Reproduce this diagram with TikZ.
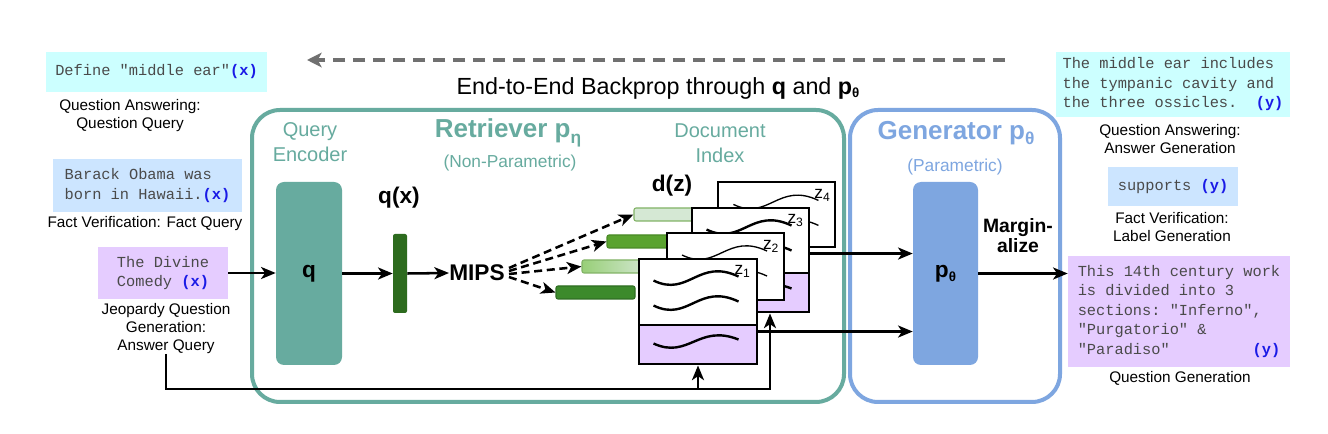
\documentclass[tikz,border=0pt]{standalone}
\usepackage{fontspec}
\setmainfont{Liberation Sans}
\setmonofont{Liberation Mono}
\usetikzlibrary{arrows.meta,calc}
\definecolor{tealc}{HTML}{67AB9F}
\definecolor{bluec}{HTML}{7EA6E0}
\definecolor{cyanbox}{HTML}{CCFFFF}
\definecolor{lbluebox}{HTML}{CCE5FF}
\definecolor{lavbox}{HTML}{E5CCFF}
\definecolor{monog}{HTML}{4A4A4A}
\definecolor{xblue}{HTML}{1A1AE6}
\definecolor{bpgray}{HTML}{707070}
\definecolor{qvecc}{HTML}{2D6B1E}
\definecolor{barA}{HTML}{D5E8D4}
\definecolor{barAd}{HTML}{82B366}
\definecolor{barB}{HTML}{5AA32F}
\definecolor{barBd}{HTML}{4A8A27}
\definecolor{barC}{HTML}{98CF78}
\definecolor{barD}{HTML}{3C8A2B}
\definecolor{barDd}{HTML}{2F6E22}
\newcommand{\pxu}{0.75pt}
\newcommand{\xmark}{\textbf{\color{xblue}(x)}}
\newcommand{\ymark}{\textbf{\color{xblue}(y)}}
\newcommand{\mywaves}[3]{%
  \begin{scope}[shift={(#1)}]
    \draw[line width=#2] (16,23) .. controls (51,40) and (61,0) .. (101,19);
    \draw[line width=#2] (16,48) .. controls (51,65) and (61,25) .. (101,44);
    \ifnum#3=1
    \draw[line width=#2] (16,86) .. controls (51,102) and (61,66) .. (101,82);
    \fi
  \end{scope}}
\begin{document}
\begin{tikzpicture}[x=0.75pt,y=-0.75pt,
  lab/.style={font=\fontsize{11.5}{13.5}\selectfont, align=center, inner sep=0pt},
  tb/.style={inner sep=0pt, font=\ttfamily\fontsize{11.5}{14.6}\selectfont, text=monog, align=left},
  arr/.style={line width=1.9pt, -{Stealth[length=11pt,width=9pt,inset=3pt]}},
  darr/.style={arr, dash pattern=on 6pt off 3.5pt},
  bigb/.style={font=\bfseries\fontsize{17}{18}\selectfont, inner sep=0pt},
  tealt/.style={text=tealc, inner sep=0pt, align=center},
  bart/.style={inner sep=0pt, rounded corners=1.5pt, line width=0.8pt, minimum height=13*\pxu},
  docbox/.style={draw=black, fill=white, inner sep=0pt, minimum width=118*\pxu},
  zl/.style={font=\fontsize{13}{14}\selectfont, inner sep=0pt}
]
\useasboundingbox (0,0) rectangle (1328,434);
\fill[white] (0,0) rectangle (1328,434);

% backprop
\coordinate (bp1) at (1005,60);
\coordinate (bp2) at (307,60);
\draw[bpgray, line width=3pt, dash pattern=on 9pt off 6pt, -{Stealth[length=11pt,width=11pt,inset=3pt]}] (bp1) -- (bp2);
\node[font=\fontsize{17.5}{18}\selectfont, inner sep=0pt] (bpt) at (658,88) {End-to-End Backprop through \textbf{q} and \textbf{p\raisebox{-2.5pt}{\fontsize{10}{10}\selectfont θ}}};

% containers
\node[draw=tealc, line width=3pt, rounded corners=21pt, minimum width=592*\pxu, minimum height=292*\pxu] (ret) at (548,256) {};
\node[draw=bluec, line width=3pt, rounded corners=21pt, minimum width=210*\pxu, minimum height=292*\pxu] (gen) at (955,256) {};

% retriever labels
\node[tealt, font=\fontsize{15}{19}\selectfont] (qenc) at (310,142) {Query\\Encoder};
\node[tealt, font=\bfseries\fontsize{19.5}{20}\selectfont] (rett) at (508,133) {Retriever p\raisebox{-4pt}{\fontsize{13}{13}\selectfont η}};
\node[tealt, font=\fontsize{13}{14}\selectfont] (nonp) at (510,163) {(Non-Parametric)};
\node[tealt, font=\fontsize{15}{19}\selectfont] (didx) at (720,143) {Document\\Index};
\node[text=bluec, inner sep=0pt, font=\bfseries\fontsize{19.5}{20}\selectfont] (gent) at (956,133) {Generator p\raisebox{-4pt}{\fontsize{13}{13}\selectfont θ}};
\node[text=bluec, inner sep=0pt, font=\fontsize{13}{14}\selectfont] (par) at (955,167) {(Parametric)};

% encoder
\node[fill=tealc, rounded corners=6pt, minimum width=66*\pxu, minimum height=183*\pxu, bigb] (qbox) at (309,273.5) {q};
\node[bigb] (qxl) at (399,198) {q(x)};
\node[fill=qvecc, rounded corners=1.5pt, inner sep=0pt, minimum width=14*\pxu, minimum height=79*\pxu] (qvec) at (400,273.5) {};
\node[bigb] (mips) at (477,273) {MIPS};
\node[bigb] (dzl) at (672,186) {d(z)};

% bars
\node[bart, fill=barA, draw=barAd, minimum width=66*\pxu] (bar1) at (667,214.5) {};
\node[bart, fill=barB, draw=barBd, minimum width=68*\pxu] (bar2) at (641,241.5) {};
\node[bart, left color=barC, right color=barA, draw=barAd, minimum width=68*\pxu] (bar3) at (616,266.5) {};
\node[bart, fill=barD, draw=barDd, minimum width=79*\pxu] (bar4) at (595.5,292.5) {};

% documents
\node[docbox, line width=0.9pt, minimum width=117*\pxu, minimum height=65*\pxu] (d4) at (776.5,214.5) {};
\mywaves{d4.north west}{1pt}{0}
\node[zl] (z4) at ($(d4.north west)+(105,14)$) {z\textsubscript{4}};

\node[docbox, line width=2.2pt, minimum width=117*\pxu, minimum height=65*\pxu] (d3t) at (750.5,240.5) {};
\node[docbox, fill=lavbox, line width=2.2pt, minimum width=117*\pxu, minimum height=39*\pxu] (d3b) at (750.5,292.5) {};
\mywaves{d3t.north west}{1.8pt}{1}
\node[zl] (z3) at ($(d3t.north west)+(105,14)$) {z\textsubscript{3}};

\node[docbox, line width=1.4pt, minimum width=117*\pxu, minimum height=67*\pxu] (d2) at (725.5,266.5) {};
\mywaves{d2.north west}{1pt}{0}
\node[zl] (z2) at ($(d2.north west)+(105,14)$) {z\textsubscript{2}};

\node[docbox, line width=2.2pt, minimum height=66*\pxu] (d1t) at (698,292) {};
\node[docbox, fill=lavbox, line width=2.2pt, minimum height=39*\pxu] (d1b) at (698,344.5) {};
\mywaves{d1t.north west}{1.8pt}{1}
\node[zl] (z1) at ($(d1t.north west)+(105,14)$) {z\textsubscript{1}};

% generator
\node[fill=bluec, rounded corners=6pt, minimum width=65*\pxu, minimum height=183*\pxu, bigb] (pbox) at (945.5,273.5) {p\raisebox{-3pt}{\fontsize{10}{10}\selectfont θ}};
\node[align=center, inner sep=0pt, font=\bfseries\fontsize{14.5}{15}\selectfont] (marg) at (1018,236) {Margin-\\alize};

% input boxes
\node[tb, fill=cyanbox, minimum width=221*\pxu, minimum height=40*\pxu] (b1) at (156.5,72) {Define "middle ear"\xmark};
\node[lab] (l1) at (130,116) {Question Answering:\\Question Query};
\node[tb, fill=lbluebox, minimum width=189*\pxu, minimum height=53*\pxu] (b2) at (147.5,185.5) {Barack Obama was\\born in Hawaii.\xmark};
\node[lab] (l2) at (145,224) {Fact Verification: Fact Query};
\node[tb, fill=lavbox, minimum width=130*\pxu, minimum height=52*\pxu] (b3) at (163,273) {The Divine\\Comedy~\xmark};
\node[lab] (l3) at (166,328.5) {Jeopardy Question\\Generation:\\Answer Query};

% output boxes
\node[tb, fill=cyanbox, minimum width=234*\pxu, minimum height=65*\pxu] (b4) at (1173,84.5) {The middle ear includes\\the tympanic cavity and\\the three ossicles.~~\ymark};
\node[lab] (l4) at (1170,139) {Question Answering:\\Answer Generation};
\node[tb, fill=lbluebox, minimum width=130*\pxu, minimum height=39*\pxu] (b5) at (1173,186.5) {supports~\ymark};
\node[lab] (l5) at (1172,227) {Fact Verification:\\Label Generation};
\node[tb, fill=lavbox, minimum width=222*\pxu, minimum height=111*\pxu] (b6) at (1179,311.5) {This 14th century work\\is divided into 3\\sections: "Inferno",\\"Purgatorio" \&\\"Paradiso"~~~~~~~~~\ymark};
\node[lab] (l6) at (1180,378) {Question Generation};

% connectors
\draw[arr] (b3.east) -- (qbox.west |- b3.east);
\draw[arr] (qbox.east) -- (qvec.west);
\draw[arr] (qvec.east) -- (mips.west);
\draw[darr] ($(mips.east)+(4,-5)$) -- (bar1.west);
\draw[darr] ($(mips.east)+(4,-2)$) -- (bar2.west);
\draw[darr] ($(mips.east)+(4,1)$) -- (bar3.west);
\draw[darr] ($(mips.east)+(4,4)$) -- (bar4.west);
\draw[arr] ($(d3t.north east)+(0,47)$) coordinate (a1) -- (pbox.west |- a1);
\draw[arr] ($(d1b.north east)+(0,8)$) coordinate (a2) -- (pbox.west |- a2);
\draw[arr] (pbox.east) -- (b6.west |- pbox.east);
\coordinate (j1) at (698,389);
\coordinate (j2) at (770,389);
\draw[arr] (l3.south) |- (j2) -- (j2 |- d3b.south);
\draw[arr] (j1) -- (d1b.south);
\end{tikzpicture}
\end{document}
